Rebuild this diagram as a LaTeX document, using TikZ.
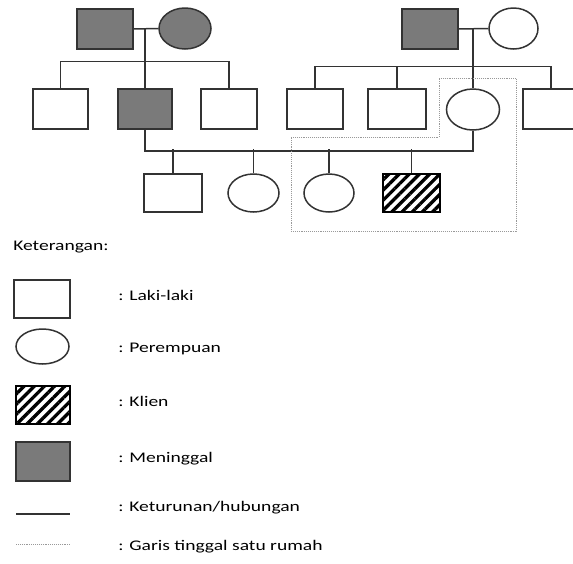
\documentclass[tikz,border=0pt]{standalone}
\usepackage{fontspec}
\setmainfont{Carlito}
\usetikzlibrary{shapes.geometric,patterns.meta}
\begin{document}
\begin{tikzpicture}[x=1pt,y=-1pt,
  ln/.style={draw=black!80,line width=1.5pt},
  male/.style={ln,rectangle,inner sep=0pt,minimum width=56pt,minimum height=40pt},
  female/.style={ln,ellipse,inner sep=0pt,minimum width=52pt,minimum height=40pt},
  dead/.style={fill=black!52},
  client/.style={draw=black,pattern={Lines[angle=45,distance=7.2pt,line width=3.3pt]}},
  house/.style={draw=black!40,densely dotted,line width=0.9pt},
  txt/.style={anchor=base west,inner sep=0pt,xscale=1.33,font=\fontsize{14.7}{17}\selectfont}]
\useasboundingbox (0,0) rectangle (573,563);
% generation 1
\node[male,dead] (gf1) at (105,29) {};
\node[female,dead,minimum width=52pt,minimum height=41pt] (gm1) at (185,28.5) {};
\node[male,dead] (gf2) at (430,29) {};
\node[female,minimum width=49pt,minimum height=41pt] (gm2) at (513.5,28.5) {};
\coordinate (m1) at (145,29);
\coordinate (m2) at (473,29);
% generation 2
\node[male,minimum width=55pt] (a) at (60.5,109) {};
\node[male,dead,minimum width=54pt] (b) at (145,109) {};
\node[male] (c) at (229,109) {};
\node[male] (d) at (315,109) {};
\node[male,minimum width=58pt] (e) at (397,109) {};
\node[female,minimum width=53pt,minimum height=41pt] (f) at (473,109.5) {};
\node[male] (g) at (551,109) {};
% generation 3
\node[male,minimum width=58pt,minimum height=38pt] (h) at (173,193) {};
\node[female,minimum width=51pt,minimum height=38pt] (i) at (253.5,193) {};
\node[female,minimum width=50pt,minimum height=38pt] (j) at (329,193) {};
\node[male,client,line width=1.5pt,minimum width=57pt,minimum height=38pt] (k) at (411.5,193) {};
% connectors
\draw[ln] (gf1.east) -- (gm1.west);
\draw[ln] (m1) -- (b.north);
\draw[ln] (a.north) -- ++(0,-27) -| (c.north);
\draw[ln] (gf2.east) -- (gm2.west);
\draw[ln] (m2) -- (f.north);
\draw[ln] (d.north) -- ++(0,-22) -| (g.north);
\draw[ln] (e.north) -- ++(0,-22);
\draw[ln] (b.south) -- ++(0,21) -| (f.south);
\draw[ln] (h.north) -- ++(0,-24);
\draw[ln] (i.north) -- ++(0,-24);
\draw[ln] (j.north) -- ++(0,-24);
\draw[ln] (k.north) -- ++(0,-24);
% household
\draw[house] (439,78) -- (516,78) -- (516,231) -- (291,231) -- (291,137) -- (439,137) -- cycle;
% legend
\node[txt] (ket) at (13,250) {Keterangan:};
\node[male,minimum width=56pt,minimum height=38pt] (lm) at (42,299) {};
\node[female,minimum width=53pt,minimum height=35pt] (lf) at (42.5,346.5) {};
\node[male,client,minimum width=54pt,minimum height=38pt] (lc) at (43,405) {};
\node[male,dead,minimum width=54pt,minimum height=39pt] (ld) at (43,461.5) {};
\coordinate (l1a) at (16,514); \coordinate (l1b) at (70,514);
\coordinate (l2a) at (16,544); \coordinate (l2b) at (70,544);
\draw[ln,line width=1.3pt] (l1a) -- (l1b);
\draw[house] (l2a) -- (l2b);
\node[txt] (t1) at (118,300) {: Laki-laki};
\node[txt] (t2) at (118,352) {: Perempuan};
\node[txt] (t3) at (118,406) {: Klien};
\node[txt] (t4) at (118,462) {: Meninggal};
\node[txt] (t5) at (118,511) {: Keturunan/hubungan};
\node[txt] (t6) at (118,550) {: Garis tinggal satu rumah};
\end{tikzpicture}
\end{document}
